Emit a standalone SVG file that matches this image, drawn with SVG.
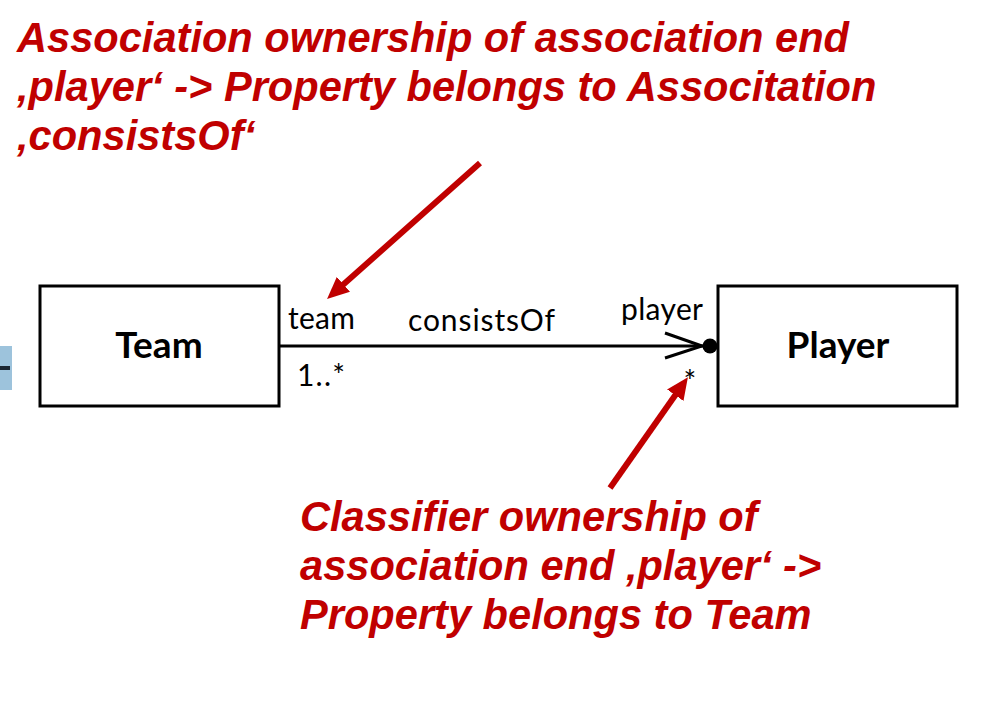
<svg xmlns="http://www.w3.org/2000/svg" width="997" height="715" viewBox="0 0 997 715">
<style>
.box{fill:#fff;stroke:#000;stroke-width:3}
.cls{font-family:Lato,"Liberation Sans",sans-serif;font-weight:bold;font-size:37px;fill:#000}
.lbl{font-family:Lato,"Liberation Sans",sans-serif;font-size:30px;fill:#000}
.note{font-family:"Liberation Sans",Arial,sans-serif;font-weight:bold;font-style:italic;font-size:41.6px;fill:#c00000}
.red{stroke:#c00000;stroke-width:6;fill:none}
</style>
<defs>
<marker id="rh" viewBox="0 0 22 20" refX="10" refY="10" markerWidth="22" markerHeight="20" markerUnits="userSpaceOnUse" orient="auto">
<path d="M0,0 L22,10 L0,20 z" fill="#c00000"/>
</marker>
</defs>
<rect width="997" height="715" fill="#fff"/>
<g id="edge-tab">
<rect x="0" y="346" width="12" height="44" fill="#9dc3dc"/>
<rect x="0" y="366" width="10" height="4" fill="#1a2632"/>
</g>
<g id="team">
<rect class="box" x="40" y="286" width="239" height="120"/>
<text class="cls" x="159" y="358" text-anchor="middle">Team</text>
</g>
<g id="player">
<rect class="box" x="718" y="286" width="239" height="120"/>
<text class="cls" x="838" y="358" text-anchor="middle">Player</text>
</g>
<g id="connectors">
<line x1="279" y1="346" x2="705" y2="346" stroke="#000" stroke-width="3"/>
<polyline points="665,333 702,346 665,358" fill="none" stroke="#000" stroke-width="3"/>
<circle cx="710" cy="346" r="7.5" fill="#000"/>
<text class="lbl" x="288" y="329" textLength="67">team</text>
<text class="lbl" x="297" y="386" textLength="48">1..*</text>
<text class="lbl" x="408" y="331" textLength="147">consistsOf</text>
<text class="lbl" x="621" y="320" textLength="82">player</text>
<text class="lbl" x="690" y="392" text-anchor="middle" font-size="34">*</text>
<line class="red" x1="480" y1="163" x2="336" y2="291" marker-end="url(#rh)"/>
<line class="red" x1="610" y1="488" x2="681" y2="387" marker-end="url(#rh)"/>
</g>
<g id="note-association">
<text class="note" x="17" y="52">Association ownership of association end</text>
<text class="note" x="17" y="101">‚player‘ -&gt; Property belongs to Associtation</text>
<text class="note" x="17" y="150">‚consistsOf‘</text>
</g>
<g id="note-classifier">
<text class="note" x="300" y="531">Classifier ownership of</text>
<text class="note" x="300" y="580">association end ‚player‘ -&gt;</text>
<text class="note" x="300" y="629">Property belongs to Team</text>
</g>
</svg>
